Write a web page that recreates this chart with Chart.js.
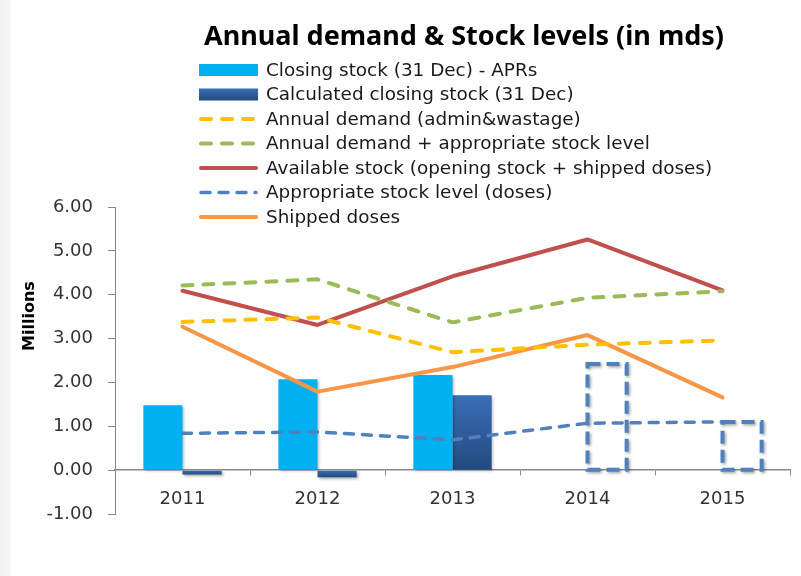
<!DOCTYPE html>
<html>
<head>
<meta charset="utf-8">
<script src="https://cdn.jsdelivr.net/npm/chart.js@4.4.1/dist/chart.umd.min.js"></script>
<style>
  html, body { margin: 0; padding: 0; }
  body {
    width: 801px; height: 576px; overflow: hidden;
    background: linear-gradient(to right, #f3f3f3 0, #f6f6f6 10px, #ffffff 11px);
  }
  #chart { display: block; }
</style>
</head>
<body>
<canvas id="chart" width="801" height="576"></canvas>
<script>
; (() => {
  "use strict";

  // values, in millions of doses
  const years = ["2011", "2012", "2013", "2014", "2015"];
  const closingStockAPR = [1.48, 2.07, 2.17, null, null];
  const calcClosingStock = [-0.10, -0.16, 1.71, 2.42, 1.10];
  const annualDemand = [3.38, 3.48, 2.69, 2.86, 2.96];
  const demandPlusStock = [4.21, 4.35, 3.37, 3.93, 4.08];
  const availableStock = [4.09, 3.31, 4.42, 5.26, 4.10];
  const appropriateStock = [0.84, 0.87, 0.69, 1.07, 1.10];
  const shippedDoses = [3.27, 1.79, 2.35, 3.08, 1.66];

  const yMin = -1, yMax = 6, yStep = 1;

  const chartTitle = "Annual demand & Stock levels (in mds)";
  const yTitle = "Millions";

  // points of the calculated series shown only as a dashed outline
  const outlineOnly = [3, 4];

  const FONT = '"DejaVu Sans", "Noto Sans", sans-serif';
  const TITLE_FONT = '"Noto Sans", "Open Sans", sans-serif';

  const calcFill = function (c) {
    const chart = c.chart;
    const ys = chart.scales.y;
    if (c.type !== "data" || !chart.chartArea || !ys) return "#2E5D9C";
    if (outlineOnly.includes(c.dataIndex)) return "rgba(0,0,0,0)";
    const v = c.raw;
    const top = ys.getPixelForValue(Math.max(v, 0));
    const bot = ys.getPixelForValue(Math.min(v, 0));
    const g = chart.ctx.createLinearGradient(0, top, 0, bot + 0.01);
    g.addColorStop(0, "#3A6EB6");
    g.addColorStop(1, "#234A80");
    return g;
  };

  const barShadow = {
    id: "barShadow",
    beforeDatasetDraw(chart, args) {
      if (chart.data.datasets[args.index].type !== "bar") return;
      const ctx = chart.ctx;
      ctx.save();
      ctx.shadowColor = "rgba(0,0,0,0.35)";
      ctx.shadowBlur = 3;
      ctx.shadowOffsetX = 1.5;
      ctx.shadowOffsetY = 1.5;
    },
    afterDatasetDraw(chart, args) {
      if (chart.data.datasets[args.index].type !== "bar") return;
      const ctx = chart.ctx;
      if (args.index === 1) {
        ctx.lineWidth = 4;
        ctx.strokeStyle = "#4F81BD";
        ctx.setLineDash([13, 6]);
        outlineOnly.forEach((i) => {
          const el = args.meta.data[i];
          const p = el.getProps(["x", "y", "base", "width"], true);
          ctx.strokeRect(p.x - p.width / 2, Math.min(p.y, p.base), p.width, Math.abs(p.base - p.y));
        });
      }
      ctx.restore();
    }
  };

  const header = {
    id: "header",
    afterDraw(chart) {
      const ctx = chart.ctx;
      ctx.save();
      ctx.fillStyle = "#000";
      ctx.textBaseline = "middle";
      ctx.textAlign = "center";
      ctx.font = "bold 27px " + TITLE_FONT;
      ctx.fillText(chartTitle, 464, 37);

      ctx.save();
      ctx.translate(30, 316);
      ctx.rotate(-Math.PI / 2);
      ctx.font = "bold 16px " + FONT;
      ctx.fillText(yTitle, 0, 0);
      ctx.restore();

      ctx.textAlign = "left";
      ctx.font = "18.4px " + FONT;
      chart.data.datasets.forEach((ds, i) => {
        const y = 70 + i * 24.5;
        const x0 = 199, x1 = 258;
        if (ds.type === "bar") {
          if (i === 1) {
            const g = ctx.createLinearGradient(0, y - 6, 0, y + 6);
            g.addColorStop(0, "#3A6EB6");
            g.addColorStop(1, "#234A80");
            ctx.fillStyle = g;
          } else {
            ctx.fillStyle = ds.backgroundColor;
          }
          ctx.fillRect(x0, y - 6, x1 - x0, 12);
        } else {
          ctx.save();
          ctx.strokeStyle = ds.borderColor;
          ctx.lineWidth = ds.borderWidth;
          ctx.lineCap = "round";
          ctx.setLineDash(ds.borderDash || []);
          ctx.beginPath();
          ctx.moveTo(x0 + 2, y);
          ctx.lineTo(x1 - 2, y);
          ctx.stroke();
          ctx.restore();
        }
        ctx.fillStyle = "#1a1a1a";
        ctx.fillText(ds.label, 266, y + 1);
      });
      ctx.restore();
    }
  };

  const lineSet = (label, data, color, width, dash) => ({
    type: "line",
    label: label,
    data: data,
    borderColor: color,
    backgroundColor: color,
    borderWidth: width,
    borderDash: dash,
    borderCapStyle: "round",
    borderJoinStyle: "round",
    pointRadius: 0,
    tension: 0,
    order: 1
  });

  new Chart(document.getElementById("chart").getContext("2d"), {
    data: {
      labels: years,
      datasets: [
        {
          type: "bar",
          label: "Closing stock (31 Dec) - APRs",
          data: closingStockAPR,
          backgroundColor: "#00B0F0",
          borderWidth: 0,
          order: 10
        },
        {
          type: "bar",
          label: "Calculated closing stock (31 Dec)",
          data: calcClosingStock,
          backgroundColor: calcFill,
          borderWidth: 0,
          order: 10
        },
        lineSet("Annual demand (admin&wastage)", annualDemand, "#FFC000", 4, [10, 11]),
        lineSet("Annual demand + appropriate stock level", demandPlusStock, "#9BBB59", 4, [10, 11]),
        lineSet("Available stock (opening stock + shipped doses)", availableStock, "#C0504D", 4, []),
        lineSet("Appropriate stock level (doses)", appropriateStock, "#4F81BD", 3.5, [9, 9]),
        lineSet("Shipped doses", shippedDoses, "#F79646", 4, [])
      ]
    },
    options: {
      responsive: false,
      animation: false,
      layout: {
        padding: { top: 207, right: 11, bottom: 62, left: 0 }
      },
      datasets: {
        bar: { categoryPercentage: 0.58, barPercentage: 1.0 }
      },
      plugins: {
        legend: { display: false },
        title: { display: false },
        tooltip: { enabled: false }
      },
      scales: {
        x: {
          position: { y: 0 },
          offset: true,
          grid: {
            offset: true,
            drawOnChartArea: false,
            drawTicks: true,
            tickLength: 5,
            color: "#888888",
            lineWidth: 1
          },
          border: { display: true, color: "#888888", width: 1.5 },
          ticks: {
            color: "#333333",
            padding: 13,
            font: { family: FONT, size: 18 },
            maxRotation: 0
          }
        },
        y: {
          min: yMin,
          max: yMax,
          afterFit: (scale) => { scale.width = 115; },
          grid: {
            drawOnChartArea: false,
            drawTicks: true,
            tickLength: 7,
            color: "#888888"
          },
          border: { display: true, color: "#888888", width: 1 },
          ticks: {
            stepSize: yStep,
            padding: 15,
            color: "#333333",
            font: { family: FONT, size: 18 },
            callback: (v) => v.toFixed(2)
          }
        }
      }
    },
    plugins: [barShadow, header]
  });

})();
</script>
</body>
</html>
